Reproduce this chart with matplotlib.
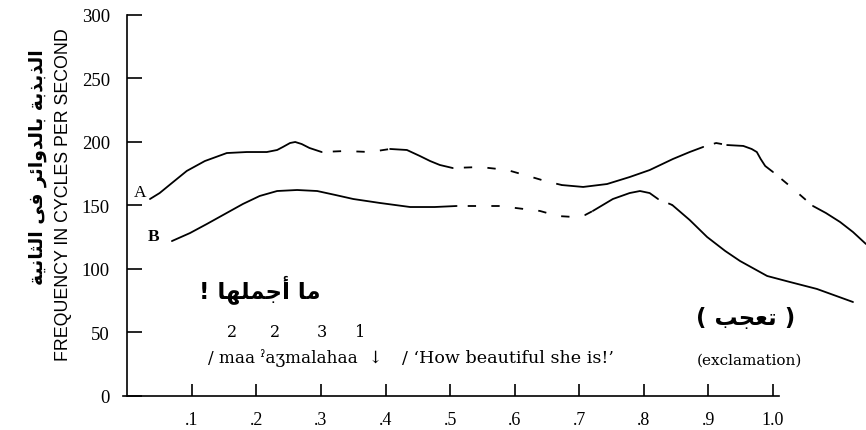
import matplotlib
matplotlib.use("Agg")
import matplotlib.pyplot as plt

plt.rcParams.update({"font.family": ["Liberation Serif", "DejaVu Serif"],
                     "lines.scale_dashes": False})

# Arabic presentation forms: isolated, final, initial, medial
FORMS = {
    "ا": ("\uFE8D", "\uFE8E", None, None), "أ": ("\uFE83", "\uFE84", None, None),
    "ب": ("\uFE8F", "\uFE90", "\uFE91", "\uFE92"), "ة": ("\uFE93", "\uFE94", None, None),
    "ت": ("\uFE95", "\uFE96", "\uFE97", "\uFE98"), "ث": ("\uFE99", "\uFE9A", "\uFE9B", "\uFE9C"),
    "ج": ("\uFE9D", "\uFE9E", "\uFE9F", "\uFEA0"), "د": ("\uFEA9", "\uFEAA", None, None),
    "ذ": ("\uFEAB", "\uFEAC", None, None), "ر": ("\uFEAD", "\uFEAE", None, None),
    "ع": ("\uFEC9", "\uFECA", "\uFECB", "\uFECC"), "ف": ("\uFED1", "\uFED2", "\uFED3", "\uFED4"),
    "ل": ("\uFEDD", "\uFEDE", "\uFEDF", "\uFEE0"), "م": ("\uFEE1", "\uFEE2", "\uFEE3", "\uFEE4"),
    "ن": ("\uFEE5", "\uFEE6", "\uFEE7", "\uFEE8"), "ه": ("\uFEE9", "\uFEEA", "\uFEEB", "\uFEEC"),
    "و": ("\uFEED", "\uFEEE", None, None), "ي": ("\uFEF1", "\uFEF2", "\uFEF3", "\uFEF4"),
    "ى": ("\uFEEF", "\uFEF0", None, None), "ئ": ("\uFE89", "\uFE8A", "\uFE8B", "\uFE8C"),
}

def ar(s):
    out = []
    for i, ch in enumerate(s):
        if ch not in FORMS:
            out.append(ch); continue
        prev = s[i-1] if i > 0 else ""
        nxt = s[i+1] if i + 1 < len(s) else ""
        jp = prev in FORMS and FORMS[prev][2] is not None
        jn = nxt in FORMS and FORMS[ch][2] is not None
        iso, fin, ini, med = FORMS[ch]
        out.append(med if jp and jn else fin if jp else ini if jn else iso)
    return "".join(out)[::-1]

# curve A (upper): alternating solid / dashed pieces
A_solid = [
    ([0.035, 0.050, 0.069, 0.092, 0.120, 0.154, 0.185, 0.216, 0.232, 0.241, 0.252, 0.260, 0.270, 0.282, 0.301],
     [155.1, 159.8, 167.7, 177.2, 185.0, 191.3, 192.1, 192.1, 193.7, 196.1, 199.2, 200.0, 198.4, 195.3, 192.1]),
    ([0.407, 0.433, 0.453, 0.469, 0.484, 0.504], [194.5, 193.7, 189.0, 185.0, 181.9, 179.5]),
    ([0.673, 0.706, 0.743, 0.778, 0.809, 0.845, 0.871, 0.892],
     [166.1, 164.6, 166.9, 172.4, 177.9, 186.6, 192.1, 196.1]),
    ([0.929, 0.954, 0.967, 0.975, 0.981, 0.988, 1.000], [197.6, 196.9, 194.5, 192.1, 186.6, 181.1, 176.4]),
    ([1.062, 1.082, 1.104, 1.124, 1.144], [149.6, 144.1, 137.0, 129.1, 119.7]),
]
A_dashed = [
    ([0.301, 0.337, 0.376, 0.407], [192.1, 192.9, 192.1, 194.5]),
    ([0.504, 0.546, 0.588, 0.621, 0.647, 0.673], [179.5, 180.3, 178.0, 173.2, 169.3, 166.1]),
    ([0.892, 0.912, 0.929], [196.1, 199.2, 197.6]),
    ([1.000, 1.026, 1.053, 1.062], [176.4, 165.4, 153.5, 149.6]),
]
# curve B (lower)
B_solid = [
    ([0.069, 0.097, 0.123, 0.151, 0.179, 0.205, 0.232, 0.263, 0.294, 0.322, 0.350, 0.391, 0.438, 0.476, 0.510],
     [122.0, 128.3, 135.4, 143.3, 151.2, 157.5, 161.4, 162.2, 161.4, 158.3, 155.1, 152.0, 148.8, 148.8, 149.6]),
    ([0.721, 0.752, 0.778, 0.794, 0.809, 0.822], [145.7, 155.1, 159.8, 161.4, 159.8, 155.1]),
    ([0.844, 0.871, 0.898, 0.926, 0.949, 0.991, 1.026, 1.068, 1.124],
     [150.4, 138.6, 125.2, 114.2, 106.3, 94.5, 89.8, 84.3, 74.0]),
]
B_dashed = [
    ([0.510, 0.546, 0.577, 0.602, 0.639, 0.667, 0.693, 0.709, 0.721],
     [149.6, 149.6, 149.6, 148.0, 145.7, 141.7, 140.9, 142.5, 145.7]),
    ([0.822, 0.844], [155.1, 150.4]),
]

xticks = [0.1, 0.2, 0.3, 0.4, 0.5, 0.6, 0.7, 0.8, 0.9, 1.0]
xlabels = [".1", ".2", ".3", ".4", ".5", ".6", ".7", ".8", ".9", "1.0"]
yticks = [0, 50, 100, 150, 200, 250, 300]

fig = plt.figure(figsize=(8.66, 4.31), dpi=100)
ax = fig.add_axes([0.1426, 0.0789, 0.8573, 0.884])
ax.set_xlim(-0.006, 1.144); ax.set_ylim(0, 300)

for xs, ys in A_solid + B_solid:
    ax.plot(xs, ys, "-", color="black", lw=1.3, clip_on=False, solid_capstyle="round")
for xs, ys in A_dashed + B_dashed:
    ax.plot(xs, ys, color="black", lw=1.3, clip_on=False, ls=(9, (6, 11)))

for s in ("top", "right"):
    ax.spines[s].set_visible(False)
ax.spines["left"].set_position(("data", 0))
ax.spines["left"].set_bounds(0, 300)
ax.spines["bottom"].set_bounds(-0.006, 1.01)
for s in ("left", "bottom"):
    ax.spines[s].set_linewidth(1.2)

ax.set_xticks(xticks); ax.set_xticklabels(xlabels)
ax.set_yticks(yticks)
ax.tick_params(axis="y", direction="in", length=10.5, width=1.2, pad=12.5, labelsize=13.5)
ax.tick_params(axis="x", direction="in", length=8.5, width=1.2, pad=10.5, labelsize=13)

SERIF = ["DejaVu Serif"]
ax.text(0.0195, 161, "A", ha="center", va="center", fontsize=12.5)
ax.text(0.040, 126, "B", ha="center", va="center", fontsize=12.5, fontweight="bold")

ax.text(0.205, 85, ar("ما أجملها !"), ha="center", va="center", fontsize=16.5,
        family="DejaVu Sans", fontweight="bold")
for x, d in zip([0.162, 0.229, 0.301, 0.360], ["2", "2", "3", "1"]):
    ax.text(x, 51, d, ha="center", va="center", fontsize=11.5, family=SERIF)
ax.text(0.125, 30.7, "/ maa ˀaʒmalahaa  ↓", ha="left", va="center", fontsize=12.2, family=SERIF)
ax.text(0.425, 30.7, "/ ‘How beautiful she is!’", ha="left", va="center", fontsize=12.6, family=SERIF)
ax.text(0.957, 62, "( " + ar("تعجب") + " )", ha="center", va="center", fontsize=16.5,
        family="DejaVu Sans", fontweight="bold")
ax.text(0.964, 29, "(exclamation)", ha="center", va="center", fontsize=11, family=SERIF)

fig.text(0.043, 0.6125, ar("الذبذبة بالدوائر فى الثانية"), rotation=90, ha="center", va="center",
         fontsize=13.5, family="DejaVu Sans", fontweight="bold")
fig.text(0.0735, 0.5476, "FREQUENCY IN CYCLES PER SECOND", rotation=90, ha="center", va="center",
         fontsize=12.8, family="Liberation Sans")

fig.savefig("out.png", dpi=100)
